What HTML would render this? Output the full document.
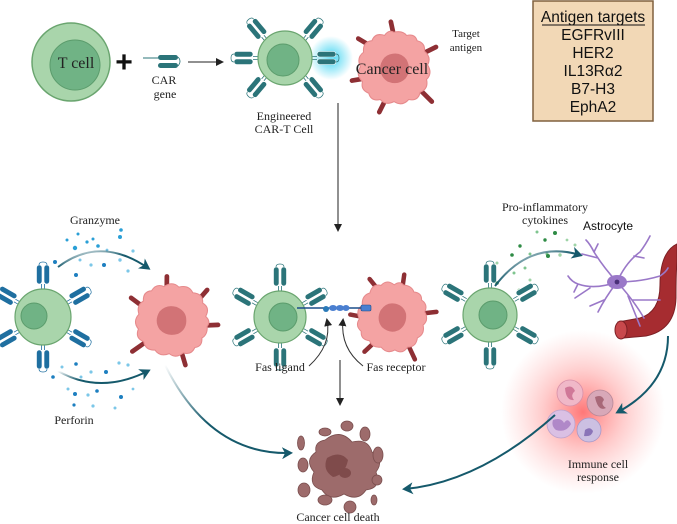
<!DOCTYPE html>
<html><head><meta charset="utf-8"><style>
html,body{margin:0;padding:0;background:#fff;width:677px;height:524px;overflow:hidden}
svg{display:block}
.s{font-family:"Liberation Serif",serif;fill:#222}
.a{font-family:"Liberation Sans",sans-serif;fill:#111}
</style></head><body>
<svg width="677" height="524" viewBox="0 0 677 524" xmlns="http://www.w3.org/2000/svg">
<defs>
<radialGradient id="glowC"><stop offset="0" stop-color="#2fd0f0" stop-opacity=".9"/><stop offset="1" stop-color="#2fd0f0" stop-opacity="0"/></radialGradient>
<radialGradient id="glowR"><stop offset="0" stop-color="#ff4a4a" stop-opacity=".75"/><stop offset=".5" stop-color="#ff7070" stop-opacity=".35"/><stop offset="1" stop-color="#ff9090" stop-opacity="0"/></radialGradient>
<marker id="ah" markerWidth="8" markerHeight="8" refX="6" refY="4" orient="auto" markerUnits="userSpaceOnUse"><path d="M0,0 L8,4 L0,8 z" fill="#222"/></marker>
<marker id="ab" markerWidth="12" markerHeight="12" refX="8" refY="6" orient="auto" markerUnits="userSpaceOnUse"><path d="M0,0 L11,6 L0,12 L3,6 z" fill="#15596b"/></marker>
<linearGradient id="fadeL" x1="0" y1="0" x2="1" y2="1"><stop offset="0" stop-color="#15596b" stop-opacity="0"/><stop offset=".5" stop-color="#15596b"/></linearGradient>
<g id="rt"><path d="M-1.5,0 L-1.5,-5 M1.5,0 L1.5,-5" stroke="#2b7479" stroke-width=".8"/><rect x="-6.5" y="-24" width="5.5" height="19" rx="2.7" fill="#2b7479" stroke="#fff" stroke-width=".6"/><rect x="1" y="-24" width="5.5" height="19" rx="2.7" fill="#2b7479" stroke="#fff" stroke-width=".6"/><path d="M-4,-24 Q-4,-27 0,-27 Q4,-27 4,-24" fill="none" stroke="#2b7479" stroke-width=".7"/></g>
<g id="rb"><path d="M-1.5,0 L-1.5,-5 M1.5,0 L1.5,-5" stroke="#1f6fa0" stroke-width=".8"/><rect x="-6.5" y="-24" width="5.5" height="19" rx="2.7" fill="#1f6fa0" stroke="#fff" stroke-width=".6"/><rect x="1" y="-24" width="5.5" height="19" rx="2.7" fill="#1f6fa0" stroke="#fff" stroke-width=".6"/><path d="M-4,-24 Q-4,-27 0,-27 Q4,-27 4,-24" fill="none" stroke="#1f6fa0" stroke-width=".7"/></g>
<g id="cc">
<g stroke="#8e2f34" stroke-width="4.5" stroke-linecap="round"><line x1="0" y1="-30" x2="-3" y2="-44"/><line x1="28" y1="-14" x2="40" y2="-20"/><line x1="26" y1="22" x2="36" y2="32"/><line x1="-8" y1="30" x2="-14" y2="42"/><line x1="-28" y1="10" x2="-40" y2="12"/><line x1="-24" y1="-22" x2="-34" y2="-28"/></g>
<path d="M0,-34 Q8,-36 12,-31 Q20,-33 22,-26 Q30,-24 29,-16 Q36,-10 32,-3 Q37,5 31,11 Q33,20 25,23 Q23,32 14,30 Q8,37 0,32 Q-8,36 -13,30 Q-22,32 -24,24 Q-32,21 -30,13 Q-37,6 -32,-1 Q-36,-10 -29,-15 Q-30,-25 -21,-26 Q-18,-34 -9,-31 Q-5,-37 0,-34z" fill="#f4a3a3" stroke="#e68a8c" stroke-width="1"/>
<path d="M-4,-13 Q6,-16 12,-8 Q17,2 11,10 Q4,17 -6,13 Q-14,8 -13,-2 Q-11,-11 -4,-13z" fill="#d27376"/>
</g>
</defs>

<!-- Top row -->
<circle cx="71" cy="62" r="39" fill="#a9d5ab" stroke="#6aa56f" stroke-width="1.5"/>
<circle cx="75" cy="65" r="25" fill="#70b385" stroke="#5b9c6c" stroke-width="1"/>
<text x="76" y="68" class="s" font-size="16" text-anchor="middle">T cell</text>
<text x="124" y="72" class="a" font-size="30" font-weight="bold" text-anchor="middle">+</text>
<line x1="143" y1="58" x2="158" y2="58" stroke="#2b7479" stroke-width="1"/>
<rect x="158" y="55" width="20" height="5" rx="2.5" fill="#2b7479"/>
<rect x="158" y="63" width="20" height="5" rx="2.5" fill="#2b7479"/>
<path d="M178,57 Q182,61 178,66" fill="none" stroke="#2b7479" stroke-width=".8"/>
<text x="164" y="84" class="s" font-size="12" text-anchor="middle">CAR</text>
<text x="165" y="98" class="s" font-size="12" text-anchor="middle">gene</text>
<line x1="188" y1="62" x2="222" y2="62" stroke="#222" stroke-width="1" marker-end="url(#ah)"/>

<circle cx="331" cy="58" r="22" fill="url(#glowC)"/>
<use href="#rt" transform="translate(266,40) rotate(-40)"/>
<use href="#rt" transform="translate(304,40) rotate(40)"/>
<use href="#rt" transform="translate(266,76) rotate(-140)"/>
<use href="#rt" transform="translate(304,76) rotate(140)"/>
<use href="#rt" transform="translate(258,58) rotate(-90)"/>
<use href="#rt" transform="translate(312,58) rotate(90)"/>
<circle cx="285" cy="58" r="27" fill="#a9d5ab" stroke="#6aa56f" stroke-width="1.2"/>
<circle cx="283" cy="60" r="16" fill="#70b385" stroke="#5b9c6c" stroke-width="1"/>
<text x="284" y="120" class="s" font-size="12" text-anchor="middle">Engineered</text>
<text x="284" y="133" class="s" font-size="12" text-anchor="middle">CAR-T Cell</text>

<use href="#cc" transform="translate(394,68) scale(1.05)"/>
<text x="392" y="74" class="s" font-size="16" text-anchor="middle">Cancer cell</text>
<text x="466" y="37" class="s" font-size="11" text-anchor="middle">Target</text>
<text x="466" y="51" class="s" font-size="11" text-anchor="middle">antigen</text>

<rect x="533" y="1" width="120" height="120" fill="#f2d8b6" stroke="#80603f" stroke-width="1.5"/>
<g class="a" font-size="15.5" text-anchor="middle">
<text x="593" y="22">Antigen targets</text>
<line x1="542" y1="25" x2="645" y2="25" stroke="#111" stroke-width="1"/>
<text x="593" y="40">EGFRvIII</text>
<text x="593" y="58">HER2</text>
<text x="593" y="76">IL13Rα2</text>
<text x="593" y="94">B7-H3</text>
<text x="593" y="112">EphA2</text>
</g>

<line x1="338" y1="103" x2="338" y2="230" stroke="#222" stroke-width="1" marker-end="url(#ah)"/>

<!-- Left middle -->
<text x="95" y="224" class="s" font-size="12" text-anchor="middle">Granzyme</text>
<g fill="#2a9fd6">
<circle cx="78" cy="234" r="1.5"/><circle cx="93" cy="239" r="1.5"/><circle cx="121" cy="230" r="1.8"/><circle cx="120" cy="237" r="2"/><circle cx="67" cy="240" r="1.5"/><circle cx="75" cy="248" r="2.2"/><circle cx="87" cy="242" r="1.6"/><circle cx="98" cy="246" r="1.8"/><circle cx="55" cy="262" r="2" fill="#1d7fc0"/><circle cx="80" cy="260" r="1.5" fill="#7cc7e8"/><circle cx="76" cy="275" r="2" fill="#1d7fc0"/><circle cx="104" cy="265" r="2" fill="#1d7fc0"/><circle cx="120" cy="260" r="1.7" fill="#7cc7e8"/><circle cx="133" cy="251" r="1.6" fill="#7cc7e8"/><circle cx="128" cy="271" r="1.6" fill="#7cc7e8"/><circle cx="91" cy="265" r="1.6" fill="#7cc7e8"/><circle cx="48" cy="273" r="1.5" fill="#7cc7e8"/><circle cx="107" cy="250" r="1.4" fill="#7cc7e8"/>
<circle cx="53" cy="377" r="1.8" fill="#1d7fc0"/><circle cx="62" cy="367" r="1.5" fill="#7cc7e8"/><circle cx="76" cy="364" r="1.8" fill="#1d7fc0"/><circle cx="81" cy="377" r="1.5" fill="#7cc7e8"/><circle cx="91" cy="372" r="1.6" fill="#7cc7e8"/><circle cx="106" cy="372" r="2" fill="#1d7fc0"/><circle cx="119" cy="363" r="1.6" fill="#7cc7e8"/><circle cx="128" cy="365" r="1.6" fill="#7cc7e8"/><circle cx="68" cy="389" r="1.5" fill="#7cc7e8"/><circle cx="75" cy="394" r="2" fill="#1d7fc0"/><circle cx="88" cy="395" r="1.6" fill="#7cc7e8"/><circle cx="97" cy="391" r="1.8" fill="#1d7fc0"/><circle cx="121" cy="397" r="2" fill="#1d7fc0"/><circle cx="74" cy="405" r="1.6" fill="#1d7fc0"/><circle cx="93" cy="406" r="1.6" fill="#7cc7e8"/><circle cx="115" cy="408" r="1.5" fill="#7cc7e8"/><circle cx="133" cy="389" r="1.4" fill="#7cc7e8"/>
</g>
<path d="M58,267 Q100,235 148,268" fill="none" stroke="url(#fadeL)" stroke-width="2" marker-end="url(#ab)"/>
<path d="M58,371 Q100,395 148,371" fill="none" stroke="url(#fadeL)" stroke-width="2" marker-end="url(#ab)"/>
<text x="74" y="424" class="s" font-size="12" text-anchor="middle">Perforin</text>

<use href="#rb" transform="translate(43,289) rotate(0)"/>
<use href="#rb" transform="translate(43,345) rotate(180)"/>
<use href="#rb" transform="translate(19,303) rotate(-60)"/>
<use href="#rb" transform="translate(67,303) rotate(60)"/>
<use href="#rb" transform="translate(19,331) rotate(-120)"/>
<use href="#rb" transform="translate(67,331) rotate(120)"/>
<circle cx="43" cy="317" r="28" fill="#a9d5ab" stroke="#6aa56f" stroke-width="1.2"/>
<circle cx="34" cy="316" r="13" fill="#70b385" stroke="#5b9c6c" stroke-width="1"/>
<use href="#cc" transform="translate(172,320) rotate(100) scale(1.05)"/>

<!-- Middle -->
<use href="#rt" transform="translate(280,291) rotate(0)"/>
<use href="#rt" transform="translate(280,343) rotate(180)"/>
<use href="#rt" transform="translate(257,304) rotate(-60)"/>
<use href="#rt" transform="translate(303,304) rotate(60)"/>
<use href="#rt" transform="translate(257,330) rotate(-120)"/>
<use href="#rt" transform="translate(303,330) rotate(120)"/>
<circle cx="280" cy="317" r="26" fill="#a9d5ab" stroke="#6aa56f" stroke-width="1.2"/>
<circle cx="283" cy="317" r="14" fill="#70b385" stroke="#5b9c6c" stroke-width="1"/>
<use href="#cc" transform="translate(392,317) rotate(20)"/>
<line x1="297" y1="308" x2="362" y2="308" stroke="#1c4f8a" stroke-width="1.5"/>
<circle cx="326" cy="309" r="3" fill="#2a7ab8"/>
<ellipse cx="333" cy="308" rx="4" ry="3" fill="#4a7fd0"/><ellipse cx="340" cy="308" rx="4" ry="3" fill="#4a7fd0"/><ellipse cx="346" cy="308" rx="3.5" ry="3" fill="#4a7fd0"/>
<rect x="361" y="305" width="10" height="6" rx="1.5" fill="#4a7fd0" stroke="#1c4f8a" stroke-width=".6"/>
<path d="M309,366 Q332,345 327,320" fill="none" stroke="#333" stroke-width="1" marker-end="url(#ah)"/>
<path d="M363,366 Q340,348 343,320" fill="none" stroke="#333" stroke-width="1" marker-end="url(#ah)"/>
<text x="280" y="371" class="s" font-size="12" text-anchor="middle">Fas ligand</text>
<text x="396" y="371" class="s" font-size="12" text-anchor="middle">Fas receptor</text>
<line x1="340" y1="360" x2="340" y2="404" stroke="#222" stroke-width="1" marker-end="url(#ah)"/>

<!-- Cancer cell death -->
<g fill="#9d6b6b" stroke="#7a4e4e" stroke-width=".8">
<path d="M325,440 Q340,428 352,442 Q368,438 372,452 Q385,460 376,472 Q382,488 366,490 Q358,502 344,494 Q330,502 322,490 Q308,486 314,472 Q304,460 316,452 Q314,442 325,440z"/>
<ellipse cx="301" cy="443" rx="3.5" ry="7"/><ellipse cx="325" cy="432" rx="6" ry="4"/><ellipse cx="347" cy="426" rx="6" ry="5"/><ellipse cx="365" cy="434" rx="5" ry="7"/><ellipse cx="378" cy="455" rx="5" ry="8"/><ellipse cx="303" cy="465" rx="5" ry="7"/><ellipse cx="304" cy="490" rx="6" ry="7"/><ellipse cx="325" cy="500" rx="7" ry="5"/><ellipse cx="350" cy="507" rx="6" ry="6"/><ellipse cx="374" cy="500" rx="3" ry="5"/><ellipse cx="377" cy="480" rx="5" ry="5"/>
</g>
<path d="M327,458 Q340,450 348,460 Q345,475 333,477 Q322,470 327,458z" fill="#7f4b4b"/>
<ellipse cx="345" cy="473" rx="6" ry="5" fill="#7f4b4b"/>
<text x="338" y="521" class="s" font-size="12" text-anchor="middle">Cancer cell death</text>
<path d="M165,365 Q210,455 290,453" fill="none" stroke="url(#fadeL)" stroke-width="2" marker-end="url(#ab)"/>

<!-- Right -->
<circle cx="583" cy="412" r="82" fill="url(#glowR)"/>
<text x="545" y="211" class="s" font-size="12" text-anchor="middle">Pro-inflammatory</text>
<text x="545" y="224" class="s" font-size="12" text-anchor="middle">cytokines</text>
<text x="608" y="230" class="a" font-size="12" text-anchor="middle">Astrocyte</text>
<g fill="#2e8b45">
<circle cx="537" cy="232" r="1.5" fill="#7fc58f"/><circle cx="545" cy="240" r="1.7"/><circle cx="555" cy="233" r="2"/><circle cx="567" cy="240" r="1.4" fill="#9fd4a7"/><circle cx="520" cy="246" r="1.7"/><circle cx="512" cy="255" r="1.8"/><circle cx="530" cy="254" r="1.5" fill="#7fc58f"/><circle cx="547" cy="254" r="1.5" fill="#7fc58f"/><circle cx="560" cy="255" r="1.7" fill="#9fd4a7"/><circle cx="575" cy="245" r="1.5" fill="#9fd4a7"/><circle cx="497" cy="263" r="1.5" fill="#9fd4a7"/><circle cx="514" cy="273" r="1.5" fill="#7fc58f"/><circle cx="548" cy="256" r="2"/><circle cx="525" cy="268" r="1.5" fill="#7fc58f"/><circle cx="497" cy="283" r="1.8"/><circle cx="530" cy="280" r="1.5" fill="#9fd4a7"/><circle cx="519" cy="290" r="1.5" fill="#9fd4a7"/>
</g>
<path d="M495,286 Q530,240 580,255" fill="none" stroke="url(#fadeL)" stroke-width="2" marker-end="url(#ab)"/>
<use href="#rt" transform="translate(490,288) rotate(0)"/>
<use href="#rt" transform="translate(490,342) rotate(180)"/>
<use href="#rt" transform="translate(466,300) rotate(-60)"/>
<use href="#rt" transform="translate(514,300) rotate(60)"/>
<use href="#rt" transform="translate(466,328) rotate(-120)"/>
<use href="#rt" transform="translate(514,328) rotate(120)"/>
<circle cx="490" cy="315" r="27" fill="#a9d5ab" stroke="#6aa56f" stroke-width="1.2"/>
<circle cx="493" cy="315" r="14" fill="#70b385" stroke="#5b9c6c" stroke-width="1"/>

<!-- vessel -->
<path d="M677,244 Q660,252 660,285 Q660,312 640,318 L618,322 L624,338 L646,336 Q675,330 676,298 Q676,272 677,262z" fill="#a62c30" stroke="#7c1f24" stroke-width="1"/>
<ellipse cx="621" cy="330" rx="6" ry="9" fill="#c8484c" stroke="#7c1f24"/>
<!-- astrocyte -->
<g stroke="#9a78c8" stroke-width="1.6" fill="none" stroke-linecap="round">
<path d="M617,282 Q604,268 594,252 Q590,244 586,240 M598,258 L582,254 M594,252 L598,244"/>
<path d="M617,282 Q626,262 640,252 Q646,244 650,236 M634,256 L644,258"/>
<path d="M617,282 Q595,290 578,284 Q572,282 568,276 M590,288 L575,298 M578,284 L574,292"/>
<path d="M617,282 Q605,298 598,312 M604,300 L590,306"/>
<path d="M617,282 Q640,282 660,276 Q666,272 668,268"/>
<path d="M617,282 Q632,298 644,318 M632,300 L660,300 M628,296 L640,326"/>
</g>
<ellipse cx="617" cy="282" rx="10" ry="7" fill="#9a78c8"/>
<circle cx="617" cy="282" r="2.4" fill="#4a2f78"/>
<!-- immune cells -->
<circle cx="570" cy="393" r="13" fill="#f0b8c8" stroke="#d890a8" stroke-width=".8"/><path d="M565,388 Q572,384 575,391 Q570,395 574,400 Q566,401 565,388z" fill="#d07898"/>
<circle cx="600" cy="403" r="13" fill="#d8a8b8" stroke="#b88898" stroke-width=".8"/><path d="M595,397 Q602,394 604,400 Q600,404 606,408 Q598,412 595,397z" fill="#a86878"/>
<circle cx="561" cy="424" r="14" fill="#dac0e4" stroke="#bca2cc" stroke-width=".8"/><path d="M553,420 Q561,417 564,423 Q568,417 571,424 Q566,433 556,430 Q551,426 553,420z" fill="#b088c8"/>
<circle cx="589" cy="430" r="12" fill="#ccc0e2" stroke="#a898c8" stroke-width=".8"/><path d="M585,430 Q590,426 593,431 Q592,437 584,436z" fill="#8a74b8"/>
<path d="M668,336 Q668,385 618,412" fill="none" stroke="url(#fadeL)" stroke-width="2" marker-end="url(#ab)"/>
<path d="M555,415 Q480,482 405,489" fill="none" stroke="#15596b" stroke-width="2" marker-end="url(#ab)"/>
<text x="598" y="468" class="s" font-size="12" text-anchor="middle">Immune cell</text>
<text x="598" y="481" class="s" font-size="12" text-anchor="middle">response</text>
</svg>
</body></html>
